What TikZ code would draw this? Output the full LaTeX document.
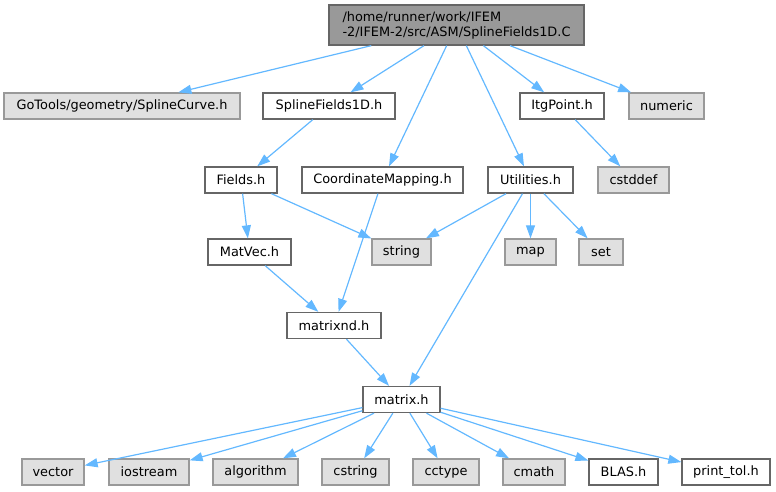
\documentclass[tikz,border=0pt]{standalone}
\usepackage{fontspec}
\setmainfont{DejaVu Sans}
\usetikzlibrary{arrows.meta}
\definecolor{edgeblue}{HTML}{63B8FF}
\definecolor{rootfill}{HTML}{999999}
\definecolor{darkborder}{HTML}{666666}
\definecolor{grayfill}{HTML}{E0E0E0}
\definecolor{grayborder}{HTML}{999999}
\tikzset{
  box/.style={rectangle, draw=darkborder, fill=white, line width=1.3pt, minimum height=26pt, inner sep=0pt, font=\fontsize{12.9}{15}\selectfont},
  sysbox/.style={box, draw=grayborder, fill=grayfill},
  rootbox/.style={box, draw=darkborder, fill=rootfill, minimum height=40pt, align=left},
  dep/.style={draw=edgeblue, line width=1.2pt, -{Triangle[length=13pt,width=9pt]}}
}
\begin{document}
\begin{tikzpicture}[x=1pt,y=-1pt]
\useasboundingbox (0,0) rectangle (776,491);
\node[rootbox, minimum width=255pt] (root) at (456.5,25) {/home/runner/work/IFEM\\-2/IFEM-2/src/ASM/SplineFields1D.C};
\node[sysbox, minimum width=236pt] (gotools) at (122,106) {GoTools/geometry/SplineCurve.h};
\node[box, minimum width=132pt] (sf1d) at (329,106) {SplineFields1D.h};
\node[box, minimum width=84pt] (itg) at (562,106) {ItgPoint.h};
\node[sysbox, minimum width=75pt] (numeric) at (666.5,106) {numeric};
\node[box, minimum width=72pt] (fields) at (241,180) {Fields.h};
\node[box, minimum width=161pt] (coord) at (382.5,180) {CoordinateMapping.h};
\node[box, minimum width=85pt] (util) at (530.5,180) {Utilities.h};
\node[sysbox, minimum width=71pt] (cstddef) at (633.5,180) {cstddef};
\node[box, minimum width=83pt] (matvec) at (249.5,252) {MatVec.h};
\node[sysbox, minimum width=59pt] (string) at (401.5,252) {string};
\node[sysbox, minimum width=51pt] (map) at (530.5,252) {map};
\node[sysbox, minimum width=44pt] (set) at (601,252) {set};
\node[box, minimum width=94pt] (matrixnd) at (334,325.5) {matrixnd.h};
\node[box, minimum width=77pt] (matrix) at (401.5,399.5) {matrix.h};
\node[sysbox, minimum width=62pt] (vector) at (53,472) {vector};
\node[sysbox, minimum width=80pt] (iostream) at (149,472) {iostream};
\node[sysbox, minimum width=85pt] (algorithm) at (255.5,472) {algorithm};
\node[sysbox, minimum width=67pt] (cstring) at (355.5,472) {cstring};
\node[sysbox, minimum width=66pt] (cctype) at (446,472) {cctype};
\node[sysbox, minimum width=62pt] (cmath) at (534,472) {cmath};
\node[box, minimum width=69pt] (blas) at (623.5,472) {BLAS.h};
\node[box, minimum width=88pt] (printtol) at (726,472) {print\_tol.h};
\draw[dep] (root) -- (gotools);
\draw[dep] (root) -- (sf1d);
\draw[dep] (root) -- (coord);
\draw[dep] (root) -- (util);
\draw[dep] (root) -- (itg);
\draw[dep] (root) -- (numeric);
\draw[dep] (sf1d) -- (fields);
\draw[dep] (fields) -- (matvec);
\draw[dep] (fields) -- (string);
\draw[dep] (coord) -- (matrixnd);
\draw[dep] (util) -- (string);
\draw[dep] (util) -- (map);
\draw[dep] (util) -- (set);
\draw[dep] (util) -- (matrix);
\draw[dep] (itg) -- (cstddef);
\draw[dep] (matvec) -- (matrixnd);
\draw[dep] (matrixnd) -- (matrix);
\draw[dep] (matrix) -- (vector);
\draw[dep] (matrix) -- (iostream);
\draw[dep] (matrix) -- (algorithm);
\draw[dep] (matrix) -- (cstring);
\draw[dep] (matrix) -- (cctype);
\draw[dep] (matrix) -- (cmath);
\draw[dep] (matrix) -- (blas);
\draw[dep] (matrix) -- (printtol);
\end{tikzpicture}
\end{document}
